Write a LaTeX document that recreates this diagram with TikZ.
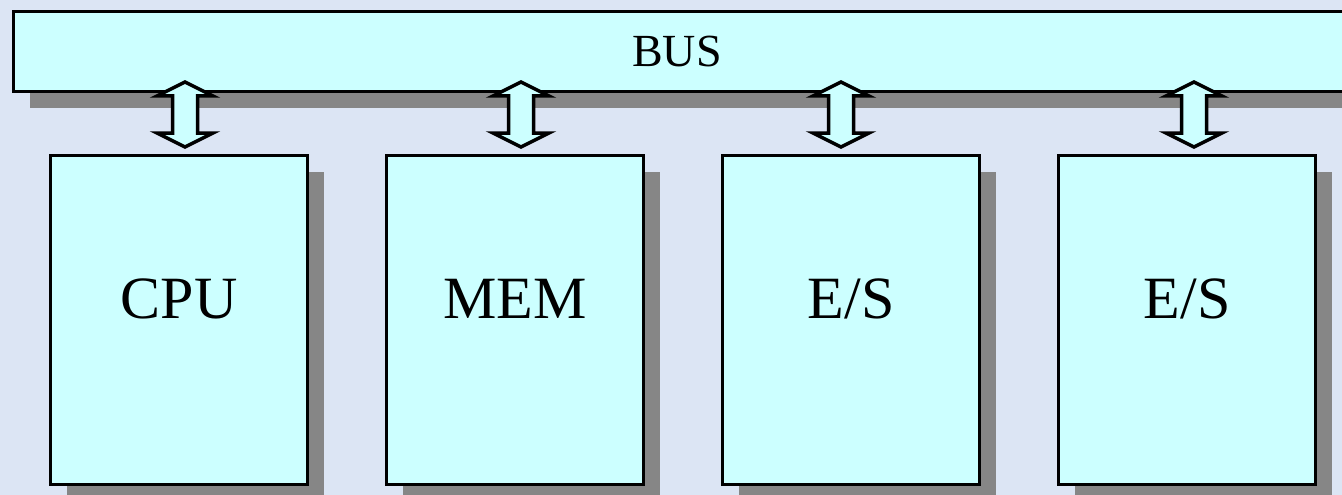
\documentclass[tikz,border=0pt]{standalone}
\usepackage{fontspec}
\setmainfont{Liberation Serif}
\usetikzlibrary{shadows,calc}
\definecolor{bgblue}{RGB}{220,229,244}
\definecolor{boxfill}{RGB}{204,255,255}
\definecolor{shadowgray}{RGB}{134,134,134}
\tikzset{
  unitbox/.style={draw=black, line width=3pt, fill=boxfill, inner sep=0pt,
    anchor=north west, minimum width=257pt, minimum height=329pt,
    drop shadow={shadow xshift=16pt, shadow yshift=-16pt, fill=shadowgray, opacity=1}},
  busbox/.style={draw=black, line width=3pt, fill=boxfill, inner sep=0pt,
    anchor=north west, minimum width=1350pt, minimum height=80pt,
    drop shadow={shadow xshift=16pt, shadow yshift=-16pt, fill=shadowgray, opacity=1}},
  bigtext/.style={font=\fontsize{60}{60}\selectfont, inner sep=0pt},
  bustext/.style={font=\fontsize{46}{46}\selectfont, inner sep=0pt},
  biarrowpath/.style={line width=3.5pt, draw=black, fill=boxfill, line join=miter},
}
\newcommand{\biarrowshape}[1]{%
  ($(#1)+(0,0)$) -- ($(#1)+(28,14)$) -- ($(#1)+(12.5,14)$) -- ($(#1)+(12.5,51)$) --
  ($(#1)+(28,51)$) -- ($(#1)+(0,65)$) -- ($(#1)+(-28,51)$) -- ($(#1)+(-12.5,51)$) --
  ($(#1)+(-12.5,14)$) -- ($(#1)+(-28,14)$) -- cycle}
\begin{document}
\begin{tikzpicture}[x=1pt,y=-1pt]
  \useasboundingbox (0,0) rectangle (1342,495);
  \clip (0,0) rectangle (1342,495);
  \fill[bgblue] (0,0) rectangle (1342,495);
  % arrow anchor points (tip tops)
  \coordinate (t1) at (185,82);
  \coordinate (t2) at (521,82);
  \coordinate (t3) at (841,82);
  \coordinate (t4) at (1194,82);
  % arrow shadows
  \foreach \t in {t1,t2,t3,t4}{
    \fill[shadowgray, shift={(12,12)}] \biarrowshape{\t};
  }
  % bus
  \node[busbox] (bus) at (12,10) {};
  \node[bustext] (bustxt) at (677,51) {BUS};
  % units
  \node[unitbox] (cpu) at (49,154) {};
  \node[unitbox] (mem) at (385,154) {};
  \node[unitbox] (es1) at (721,154) {};
  \node[unitbox] (es2) at (1057,154) {};
  \node[bigtext] (cputxt) at ($(cpu.center)+(0,-21)$) {CPU};
  \node[bigtext] (memtxt) at ($(mem.center)+(0,-21)$) {MEM};
  \node[bigtext] (es1txt) at ($(es1.center)+(0,-21)$) {E/S};
  \node[bigtext] (es2txt) at ($(es2.center)+(0,-21)$) {E/S};
  % arrows
  \foreach \t in {t1,t2,t3,t4}{
    \path[biarrowpath] \biarrowshape{\t};
  }
\end{tikzpicture}
\end{document}
